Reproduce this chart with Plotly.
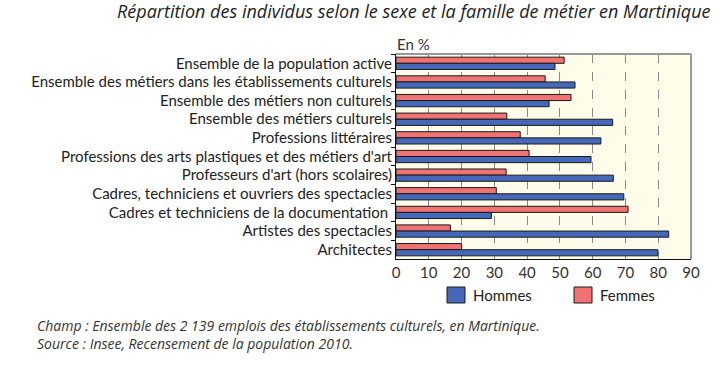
import plotly.graph_objects as go

categories = [
    "Ensemble de la population active",
    "Ensemble des métiers dans les établissements culturels",
    "Ensemble des métiers non culturels",
    "Ensemble des métiers culturels",
    "Professions littéraires",
    "Professions des arts plastiques et des métiers d'art",
    "Professeurs d'art (hors scolaires)",
    "Cadres, techniciens et ouvriers des spectacles",
    "Cadres et techniciens de la documentation ",
    "Artistes des spectacles",
    "Architectes",
]
hommes = [48.5, 54.6, 46.7, 66.1, 62.5, 59.5, 66.3, 69.5, 29.1, 83.2, 79.9]
femmes = [51.3, 45.5, 53.4, 33.8, 37.9, 40.6, 33.6, 30.6, 70.8, 16.6, 20.0]
x_ticks = [0, 10, 20, 30, 40, 50, 60, 70, 80, 90]

FONT = "Lato"
IFONT = "Open Sans"
W, H = 721, 367
L, R, T, B = 396, 30, 54, 108
pw = W - L - R
ph = H - T - B

fig = go.Figure()
fig.add_trace(go.Bar(
    y=categories, x=femmes, name="Femmes", orientation="h",
    marker=dict(color="#F07272", line=dict(color="#1a1a1a", width=1)),
    showlegend=False,
))
fig.add_trace(go.Bar(
    y=categories, x=hommes, name="Hommes", orientation="h",
    marker=dict(color="#4668B8", line=dict(color="#1a1a1a", width=1)),
    showlegend=False,
))

fig.update_layout(
    width=W, height=H,
    margin=dict(l=L, r=R, t=T, b=B),
    paper_bgcolor="white",
    plot_bgcolor="#FFFDE9",
    barmode="group",
    bargap=0.34,
    bargroupgap=0,
    font=dict(family=FONT, size=15, color="#222"),
    xaxis=dict(
        range=[0, 90], tickvals=x_ticks, ticks="", showgrid=True,
        gridcolor="#8a8a8a", griddash="dash", gridwidth=1,
        showline=True, linecolor="#111", linewidth=1, mirror=False,
        tickfont=dict(size=15, color="#333"), zeroline=False,
    ),
    yaxis=dict(
        autorange="reversed", type="category", tickson="boundaries",
        ticks="outside", ticklen=4, tickcolor="#111",
        showline=True, linecolor="#111", linewidth=1,
        tickfont=dict(size=15, color="#222"), showgrid=False,
    ),
)

# top / right frame in gray
fig.add_shape(type="line", xref="paper", yref="paper", x0=0, x1=1, y0=1, y1=1,
              line=dict(color="#999", width=2))
fig.add_shape(type="line", xref="paper", yref="paper", x0=1, x1=1, y0=0, y1=1,
              line=dict(color="#999", width=2))

def px(xp):
    return (xp - L) / pw

def py(yp):
    return 1 - (yp - T) / ph

# legend boxes
legend_items = [("Hommes", "#4668B8", 447), ("Femmes", "#F07272", 574)]
for name, col, x0 in legend_items:
    fig.add_shape(type="rect", xref="paper", yref="paper",
                  x0=px(x0), x1=px(x0 + 18), y0=py(303), y1=py(287),
                  fillcolor=col, line=dict(color="#1a1a1a", width=1))
    fig.add_annotation(text=name, xref="paper", yref="paper", x=px(x0 + 24), y=py(295),
                       xanchor="left", yanchor="middle", showarrow=False,
                       font=dict(size=15, color="#222", family=FONT))

fig.add_annotation(text="En %", xref="paper", yref="paper", x=px(395), y=py(44),
                   xanchor="left", yanchor="middle", showarrow=False,
                   font=dict(size=15, color="#333", family=FONT))
fig.add_annotation(text="<i>Répartition des individus selon le sexe et la famille de métier en Martinique</i>",
                   xref="paper", yref="paper", x=px(713), y=py(11),
                   xanchor="right", yanchor="middle", showarrow=False,
                   font=dict(size=18, color="#222", family=IFONT))
fig.add_annotation(text="<i>Champ : Ensemble des 2 139 emplois des établissements culturels, en Martinique.</i>"
                        "<br><i>Source : Insee, Recensement de la population 2010.</i>",
                   xref="paper", yref="paper", x=px(35), y=py(334),
                   xanchor="left", yanchor="middle", align="left", showarrow=False,
                   font=dict(size=14, color="#333", family=IFONT))

fig.write_html("out.html", config={"displayModeBar": False},
               post_script="document.body.style.margin='0px';")
